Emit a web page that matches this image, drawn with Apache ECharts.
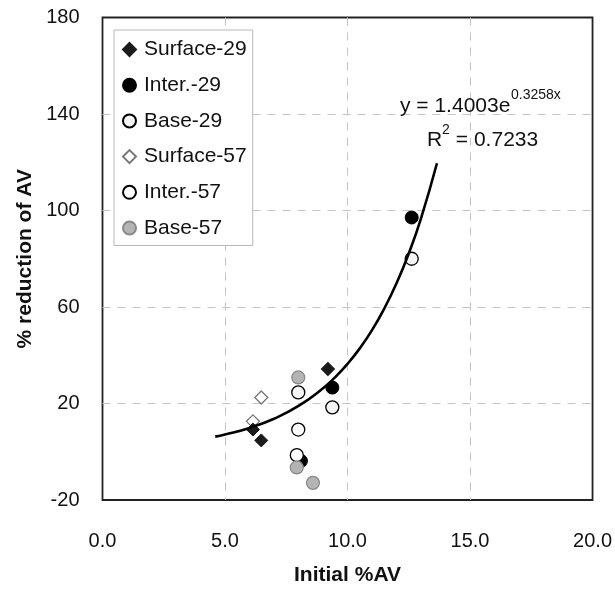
<!DOCTYPE html>
<html>
<head>
<meta charset="utf-8">
<script src="https://cdn.jsdelivr.net/npm/echarts@6/dist/echarts.min.js"></script>
<style>
html,body{margin:0;padding:0;background:#fff;}
#chart{width:615px;height:591px;}
</style>
</head>
<body>
<div id="chart"></div>
<script>
// ---- data ----
const surface29 = [[6.14, 9.2], [6.48, 4.7], [9.2, 34.3]];
const inter29   = [[8.1, -3.8], [9.38, 26.6], [12.62, 97.1]];
const base29    = [[7.99, 24.6], [9.38, 18.4], [12.62, 80.0]];
const surface57 = [[6.48, 22.5], [6.14, 12.6], [9.2, 34.3]];
const inter57   = [[7.99, 9.2], [7.93, -1.4]];
const base57    = [[7.99, 30.8], [7.93, -6.5], [8.59, -12.9]];
// trend curve points
const trendX = [4.6, 5, 6, 7, 8, 9, 9.5, 10, 10.5, 11, 11.5, 12, 12.5, 13, 13.65];
const trendY = [6.27, 7.14, 9.89, 13.70, 18.98, 26.28, 30.93, 36.41, 42.85, 50.42, 59.35, 69.85, 82.20, 96.76, 119.57];
const xTicks = ['0.0', '5.0', '10.0', '15.0', '20.0'];
const yTicks = ['-20', '20', '60', '100', '140', '180'];
const eqText = 'y = 1.4003e';
const eqExp = '0.3258x';
const r2Value = ' = 0.7233';

const chart = echarts.init(document.getElementById('chart'), null, {renderer: 'canvas'});
const FONT = '"Liberation Sans", Arial, sans-serif';
const TXT = '#111';

function sc(name, data, symbol, size, fill, border, bw, z) {
  return {
    name, type: 'scatter', data, symbol, symbolSize: size, z: z || 3,
    itemStyle: {color: fill, borderColor: border, borderWidth: bw, opacity: 1},
    emphasis: {disabled: true}
  };
}

const gridLine = {show: true, showMinLine: false, showMaxLine: false,
                  lineStyle: {color: '#c4c4c4', width: 1, type: [8, 7]}};

chart.setOption({
  animation: false,
  backgroundColor: '#fff',
  grid: {left: 102.5, top: 17.5, width: 491, height: 487, show: true,
         borderColor: '#222', borderWidth: 1.8, backgroundColor: 'transparent'},
  xAxis: {
    type: 'value', min: 0, max: 20, interval: 5,
    name: 'Initial %AV', nameLocation: 'middle', nameGap: 65,
    nameTextStyle: {fontFamily: FONT, fontSize: 21, fontWeight: 'bold', color: TXT},
    axisLine: {show: false}, axisTick: {show: false},
    axisLabel: {fontFamily: FONT, fontSize: 20, color: TXT, margin: 31,
      formatter: (v) => xTicks[Math.round(v / 5)] },
    splitLine: gridLine
  },
  yAxis: {
    type: 'value', min: -20, max: 180, interval: 40,
    name: '% reduction of AV', nameLocation: 'middle', nameGap: 67,
    nameTextStyle: {fontFamily: FONT, fontSize: 21, fontWeight: 'bold', color: TXT},
    axisLine: {show: false}, axisTick: {show: false},
    axisLabel: {fontFamily: FONT, fontSize: 20, color: TXT, margin: 23,
      formatter: (v) => yTicks[Math.round((v + 20) / 40)] },
    splitLine: gridLine
  },
  legend: {
    orient: 'vertical', left: 114, top: 30,
    padding: [9, 6, 7, 8], itemGap: 14.7, itemWidth: 13, itemHeight: 13,
    backgroundColor: '#fff', borderColor: '#b8b8b8', borderWidth: 1,
    textStyle: {fontFamily: FONT, fontSize: 21, color: TXT, lineHeight: 21, padding: [0, 0, 0, 3]},
    data: ['Surface-29', 'Inter.-29', 'Base-29', 'Surface-57', 'Inter.-57', 'Base-57'],
    selectedMode: false
  },
  series: [
    sc('Surface-29', surface29, 'diamond', 13, '#1a1a1a', '#1a1a1a', 1, 6),
    sc('Inter.-29', inter29, 'circle', 13, '#000', '#000', 1, 3),
    sc('Base-29', base29, 'circle', 13, '#f4f4f4', '#000', 1.3, 4),
    sc('Surface-57', surface57, 'diamond', 13, '#fff', '#777', 1.3, 5),
    sc('Inter.-57', inter57, 'circle', 13, '#fff', '#000', 1.3, 4),
    sc('Base-57', base57, 'circle', 13, '#b4b4b4', '#888', 1.2, 4),
    {
      name: 'trend', type: 'line', smooth: true, showSymbol: false, symbol: 'none', z: 7,
      data: trendX.map((x, i) => [x, trendY[i]]),
      lineStyle: {color: '#000', width: 2.6}, emphasis: {disabled: true}
    }
  ],
  graphic: [
    {type: 'text', left: 400, top: 96, z: 100,
     style: {text: eqText, font: '21px ' + FONT, fill: TXT}},
    {type: 'text', left: 511, top: 88, z: 100,
     style: {text: eqExp, font: '14px ' + FONT, fill: TXT}},
    {type: 'text', left: 427, top: 130, z: 100,
     style: {text: 'R', font: '21px ' + FONT, fill: TXT}},
    {type: 'text', left: 442, top: 123, z: 100,
     style: {text: '2', font: '14px ' + FONT, fill: TXT}},
    {type: 'text', left: 450, top: 130, z: 100,
     style: {text: r2Value, font: '21px ' + FONT, fill: TXT}}
  ]
});
</script>
</body>
</html>
